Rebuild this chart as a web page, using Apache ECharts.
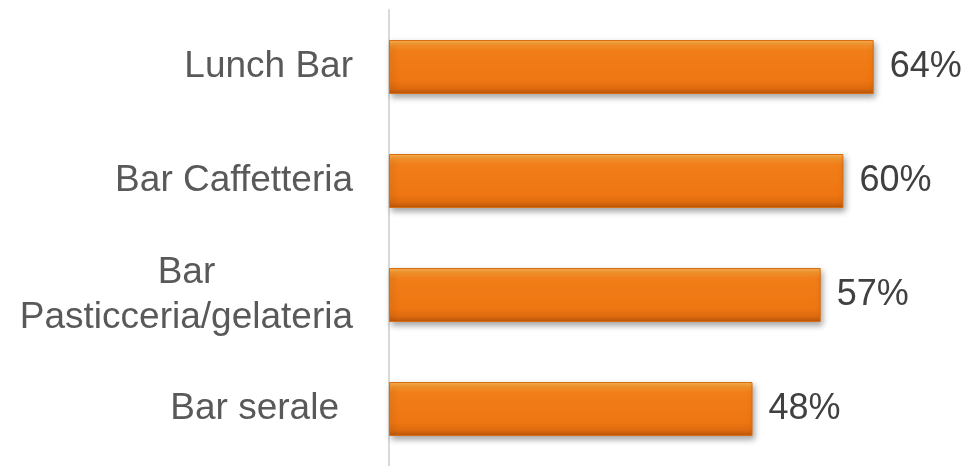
<!DOCTYPE html>
<html>
<head>
<meta charset="utf-8">
<script src="https://cdn.jsdelivr.net/npm/echarts@6/dist/echarts.min.js"></script>
<style>
  html, body { margin: 0; padding: 0; background: #ffffff; }
  #chart { width: 975px; height: 466px; }
</style>
</head>
<body>
<div id="chart"></div>
<script>
// Share of outlets by bar type (percent)
const categories = ['Lunch Bar', 'Bar Caffetteria', 'Bar\nPasticceria/gelateria', 'Bar serale'];
const values = [64, 60, 57, 48];

const chart = echarts.init(document.getElementById('chart'));

const barFill = new echarts.graphic.LinearGradient(0, 0, 0, 1, [
  { offset: 0.00, color: '#FBB556' },
  { offset: 0.08, color: '#F8962E' },
  { offset: 0.20, color: '#F17E18' },
  { offset: 0.75, color: '#EF7612' },
  { offset: 0.90, color: '#DD6A0E' },
  { offset: 1.00, color: '#B8560C' }
]);

const FONT = 'Liberation Sans, Arial, sans-serif';

chart.setOption({
  backgroundColor: '#ffffff',
  animation: false,
  grid: { left: 389, right: 18, top: 10, height: 460, containLabel: false },
  xAxis: {
    type: 'value',
    min: 0,
    max: 75,
    show: false
  },
  yAxis: {
    type: 'category',
    inverse: true,
    data: categories,
    axisLine: { show: true, lineStyle: { color: '#D9D9D9', width: 2 } },
    axisTick: { show: false },
    axisLabel: {
      margin: 36,
      fontFamily: FONT,
      fontSize: 37,
      color: '#595959',
      lineHeight: 45,
      formatter: function (v) {
        if (v.indexOf('\n') >= 0) {
          return v.split('\n').map(function (s) { return '{c|' + s + '}'; }).join('\n');
        }
        if (v === 'Bar serale') return '{s|' + v + '}';
        return v;
      },
      rich: {
        c: { align: 'center', fontSize: 37, color: '#595959', lineHeight: 45, fontFamily: FONT },
        s: { fontSize: 37, color: '#595959', padding: [0, 14, 0, 0], fontFamily: FONT }
      }
    }
  },
  series: [{
    type: 'bar',
    data: values,
    barWidth: 54,
    itemStyle: {
      color: barFill,
      borderColor: '#D86C10',
      borderWidth: 1,
      shadowColor: 'rgba(0,0,0,0.35)',
      shadowBlur: 6,
      shadowOffsetX: 2,
      shadowOffsetY: 3
    },
    label: {
      show: true,
      position: 'right',
      distance: 16,
      formatter: '{c}%',
      fontFamily: FONT,
      fontSize: 36,
      color: '#404040'
    }
  }]
});
</script>
</body>
</html>
